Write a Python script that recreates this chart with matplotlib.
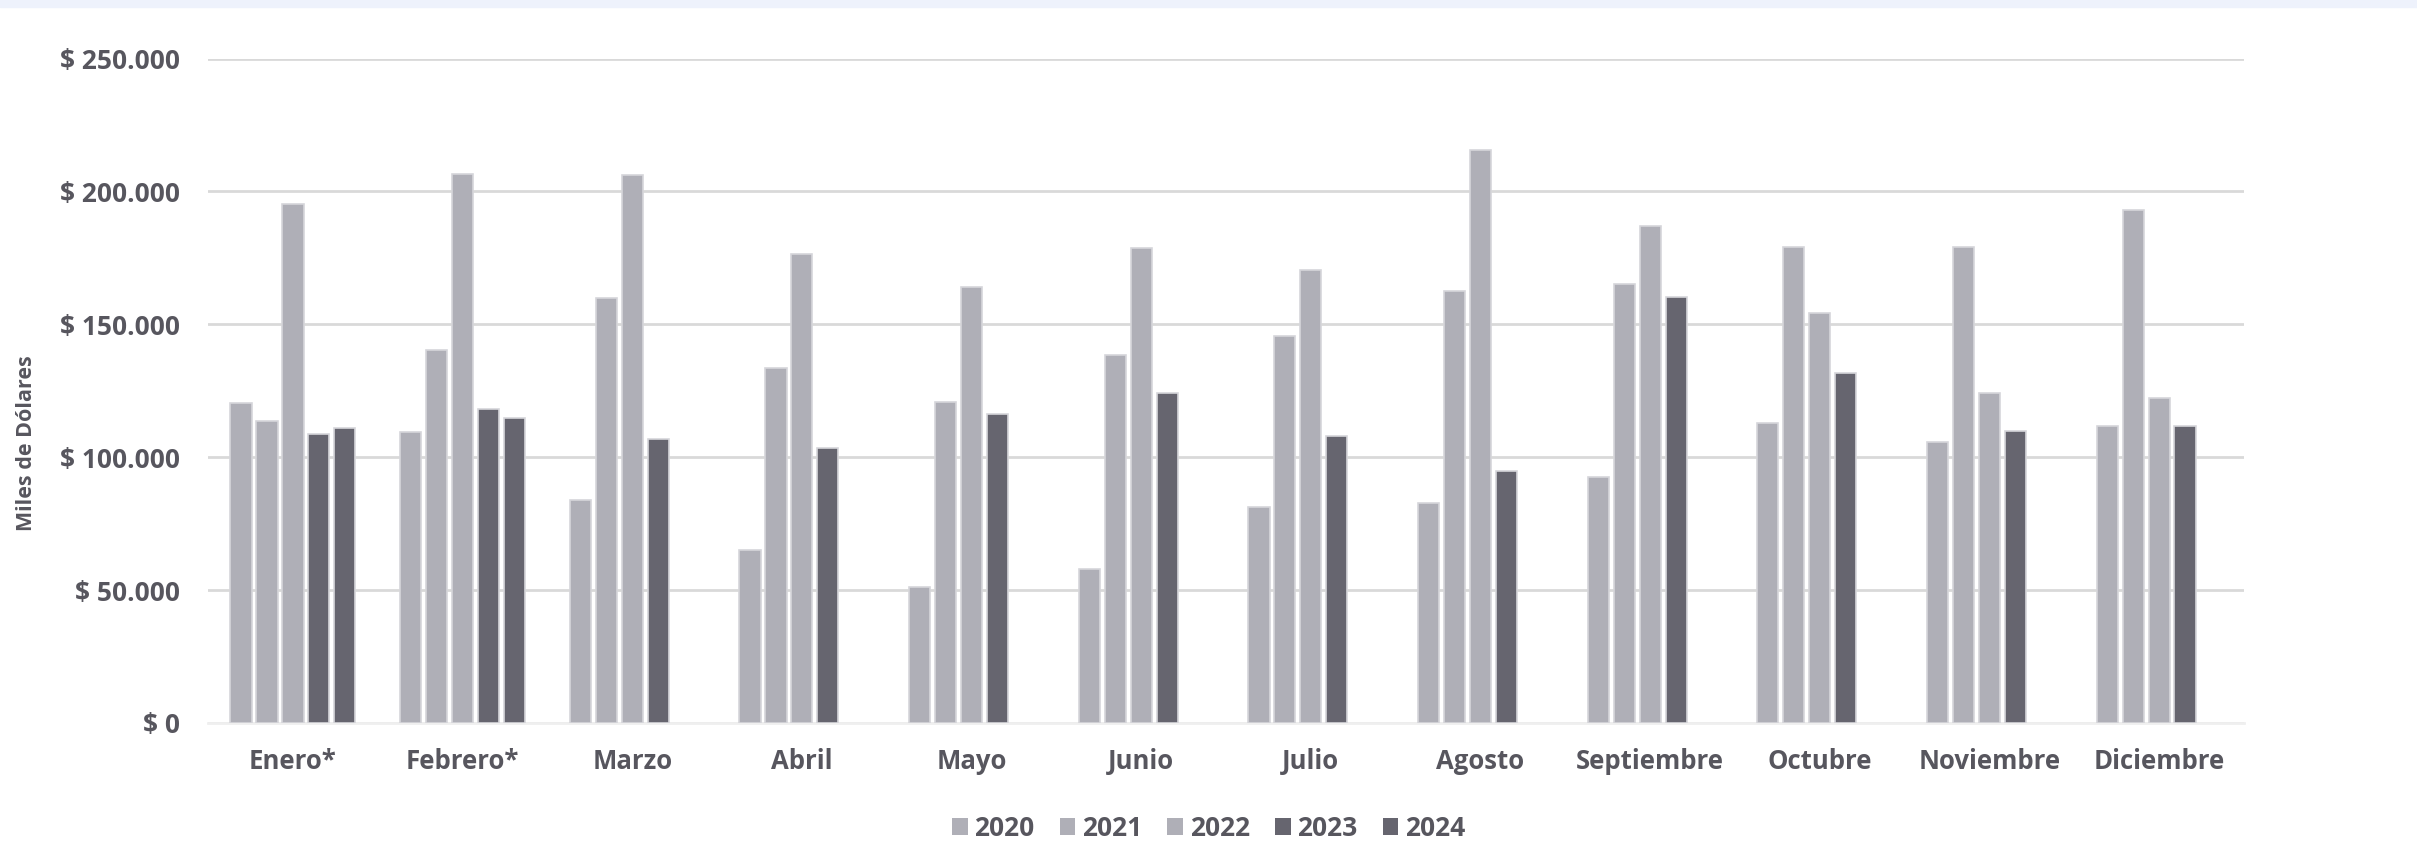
import numpy as np
import matplotlib.pyplot as plt
from matplotlib.patches import Rectangle
from matplotlib.ticker import FuncFormatter

months = ["Enero*", "Febrero*", "Marzo", "Abril", "Mayo", "Junio",
          "Julio", "Agosto", "Septiembre", "Octubre", "Noviembre", "Diciembre"]
years = ["2020", "2021", "2022", "2023", "2024"]

# miles de dolares
v2020 = [120400, 109600, 83900, 65100, 51000, 57900, 81400, 82900, 92700, 112700, 105700, 111800]
v2021 = [113800, 140200, 160000, 133500, 120600, 138400, 145600, 162500, 165300, 179000, 179000, 193200]
v2022 = [195400, 206700, 206100, 176500, 163900, 178600, 170600, 215500, 187100, 154400, 124000, 122200]
v2023 = [108900, 118300, 106800, 103300, 116300, 124200, 107800, 94700, 160300, 131600, 110000, 111800]
v2024 = [110900, 114700, np.nan, np.nan, np.nan, np.nan, np.nan, np.nan, np.nan, np.nan, np.nan, np.nan]
series = [v2020, v2021, v2022, v2023, v2024]

light = "#afafb7"
dark = "#66656f"
colors = [light, light, light, dark, dark]
txt = "#57565e"

fig = plt.figure(figsize=(24.17, 8.61), dpi=100)
fig.patches.append(Rectangle((0, 1 - 7 / 861), 1, 7 / 861, transform=fig.transFigure,
                             color="#eef2fc", zorder=0))
ax = fig.add_axes([0.0861, 0.1603, 0.8423, 0.7717])

x = np.arange(len(months))
pitch = 0.153
width = 0.125
for i, (vals, yr) in enumerate(zip(series, years)):
    ax.bar(x + (i - 2) * pitch, vals, width=width, color=colors[i],
           edgecolor="#d6d6da", linewidth=1.2, label=yr, zorder=3)

ax.set_xlim(-0.5, len(months) - 0.5)
ax.set_ylim(0, 250000)
ax.set_yticks(np.arange(0, 250001, 50000))
ax.yaxis.set_major_formatter(FuncFormatter(lambda v, p: "$ " + f"{int(v):,}".replace(",", ".")))
ax.grid(axis="y", color="#d9d9d9", linewidth=2, zorder=0)
for s in ["top", "right", "left"]:
    ax.spines[s].set_visible(False)
ax.spines["bottom"].set_color("#efefef")
ax.spines["bottom"].set_linewidth(2)
ax.tick_params(length=0)

ax.set_xticks(x)
ax.set_xticklabels(months, fontfamily="Open Sans", fontweight="bold", fontsize=18.5, color=txt)
ax.tick_params(axis="x", pad=18)
for lab in ax.get_yticklabels():
    lab.set_fontfamily("Open Sans")
    lab.set_fontweight("bold")
    lab.set_fontsize(19)
    lab.set_color(txt)
ax.tick_params(axis="y", pad=20)

fig.text(0.0108, 0.4855, "Miles de Dólares", rotation=90, ha="center", va="center",
         family="Open Sans", fontweight="bold", fontsize=15.5, color=txt)

leg = fig.legend(loc="center", bbox_to_anchor=(0.5, 0.038), ncol=5, frameon=False,
                 handlelength=0.6, handleheight=0.6, handletextpad=0.25, columnspacing=0.95,
                 prop={"family": "Open Sans", "weight": "bold", "size": 19})
for t in leg.get_texts():
    t.set_color(txt)
for h in leg.legend_handles:
    h.set_edgecolor("none")

fig.savefig("out.png", dpi=100, facecolor="white")
